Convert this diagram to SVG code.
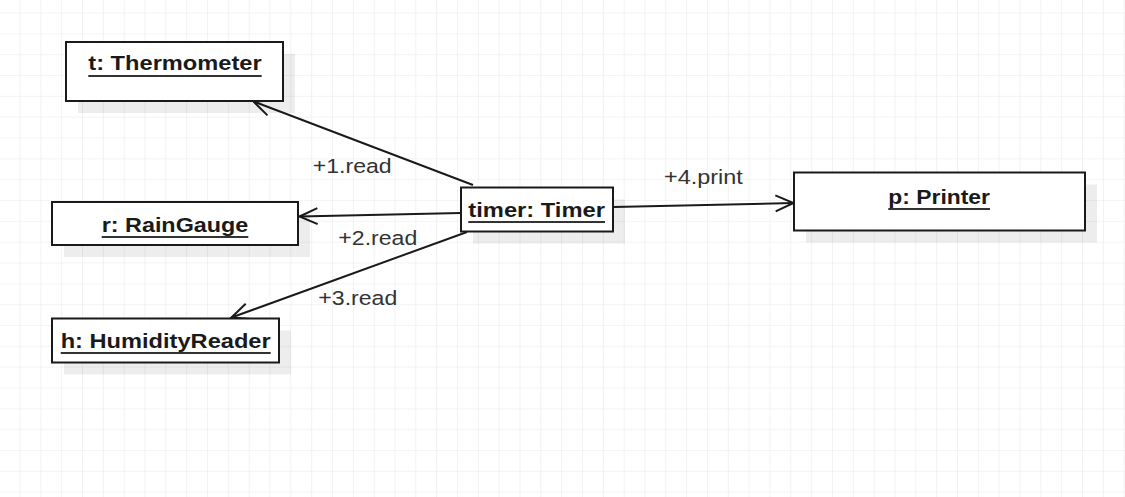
<svg xmlns="http://www.w3.org/2000/svg" width="1125" height="497" viewBox="0 0 1125 497">
  <defs>
    <pattern id="grid" patternUnits="userSpaceOnUse" x="19.5" y="12.5" width="20.833" height="20.833">
      <path d="M0,0 H20.833 M0,0 V20.833" fill="none" stroke="#e9e9e9" stroke-width="1.2"/>
    </pattern>
    <marker id="open" viewBox="-20 -10 22 20" markerWidth="22" markerHeight="20" refX="0" refY="0" markerUnits="userSpaceOnUse" orient="auto">
      <path d="M-18,-8 L0,0 L-18,8" fill="none" stroke="#1a1a1a" stroke-width="2"/>
    </marker>
  </defs>
  <style>
    .box { fill: #ffffff; stroke: #1a1a1a; stroke-width: 2; }
    .shadow { fill: #000000; fill-opacity: 0.07; }
    .name { font-family: "Liberation Sans", Arial, sans-serif; font-weight: bold; font-size: 20.5px; fill: #1a1a1a; }
    .ul { stroke: #333333; stroke-width: 2; }
    .lbl { font-family: "Liberation Sans", Arial, sans-serif; font-size: 20.5px; fill: #333333; }
    .conn { fill: none; stroke: #1a1a1a; stroke-width: 2; marker-end: url(#open); }
  </style>
  <rect width="1125" height="497" fill="#ffffff"/>
  <rect width="1125" height="497" fill="url(#grid)"/>

  <g id="connectors">
    <path class="conn" d="M473,185 L253.5,101.5"/>
    <path class="conn" d="M461,213 L299.5,216.5"/>
    <path class="conn" d="M467,232 L231.5,317.5"/>
    <path class="conn" d="M613.5,207 L793.5,203"/>
    <text class="lbl" x="312.7" y="173.3" textLength="79" lengthAdjust="spacingAndGlyphs">+1.read</text>
    <text class="lbl" x="338.3" y="245" textLength="79" lengthAdjust="spacingAndGlyphs">+2.read</text>
    <text class="lbl" x="318.3" y="305" textLength="79" lengthAdjust="spacingAndGlyphs">+3.read</text>
    <text class="lbl" x="664" y="184" textLength="78.7" lengthAdjust="spacingAndGlyphs">+4.print</text>
  </g>

  <g id="thermometer">
    <rect class="shadow" x="78" y="54" width="217" height="59"/>
    <rect class="box" x="66" y="42" width="217" height="59"/>
    <text class="name" x="88.3" y="70" textLength="173.4" lengthAdjust="spacingAndGlyphs">t: Thermometer</text>
    <line class="ul" x1="88.3" y1="76" x2="261.7" y2="76"/>
  </g>

  <g id="raingauge">
    <rect class="shadow" x="64" y="214" width="246" height="43"/>
    <rect class="box" x="52" y="202" width="246" height="43"/>
    <text class="name" x="101.7" y="231.7" textLength="146.6" lengthAdjust="spacingAndGlyphs">r: RainGauge</text>
    <line class="ul" x1="101.7" y1="237" x2="248.3" y2="237"/>
  </g>

  <g id="humidityreader">
    <rect class="shadow" x="64" y="330.5" width="227" height="44"/>
    <rect class="box" x="52" y="318.5" width="227" height="44"/>
    <text class="name" x="60.7" y="347.7" textLength="210" lengthAdjust="spacingAndGlyphs">h: HumidityReader</text>
    <line class="ul" x1="60.7" y1="353" x2="270.7" y2="353"/>
  </g>

  <g id="timer">
    <rect class="shadow" x="473" y="199.5" width="152" height="44"/>
    <rect class="box" x="461" y="187.5" width="152" height="44"/>
    <text class="name" x="468.3" y="216.7" textLength="136.7" lengthAdjust="spacingAndGlyphs">timer: Timer</text>
    <line class="ul" x1="468.3" y1="222" x2="605" y2="222"/>
  </g>

  <g id="printer">
    <rect class="shadow" x="806" y="184.5" width="291" height="58"/>
    <rect class="box" x="794" y="172.5" width="291" height="58"/>
    <text class="name" x="888.3" y="204" textLength="101.7" lengthAdjust="spacingAndGlyphs">p: Printer</text>
    <line class="ul" x1="888.3" y1="209" x2="990" y2="209"/>
  </g>
</svg>
